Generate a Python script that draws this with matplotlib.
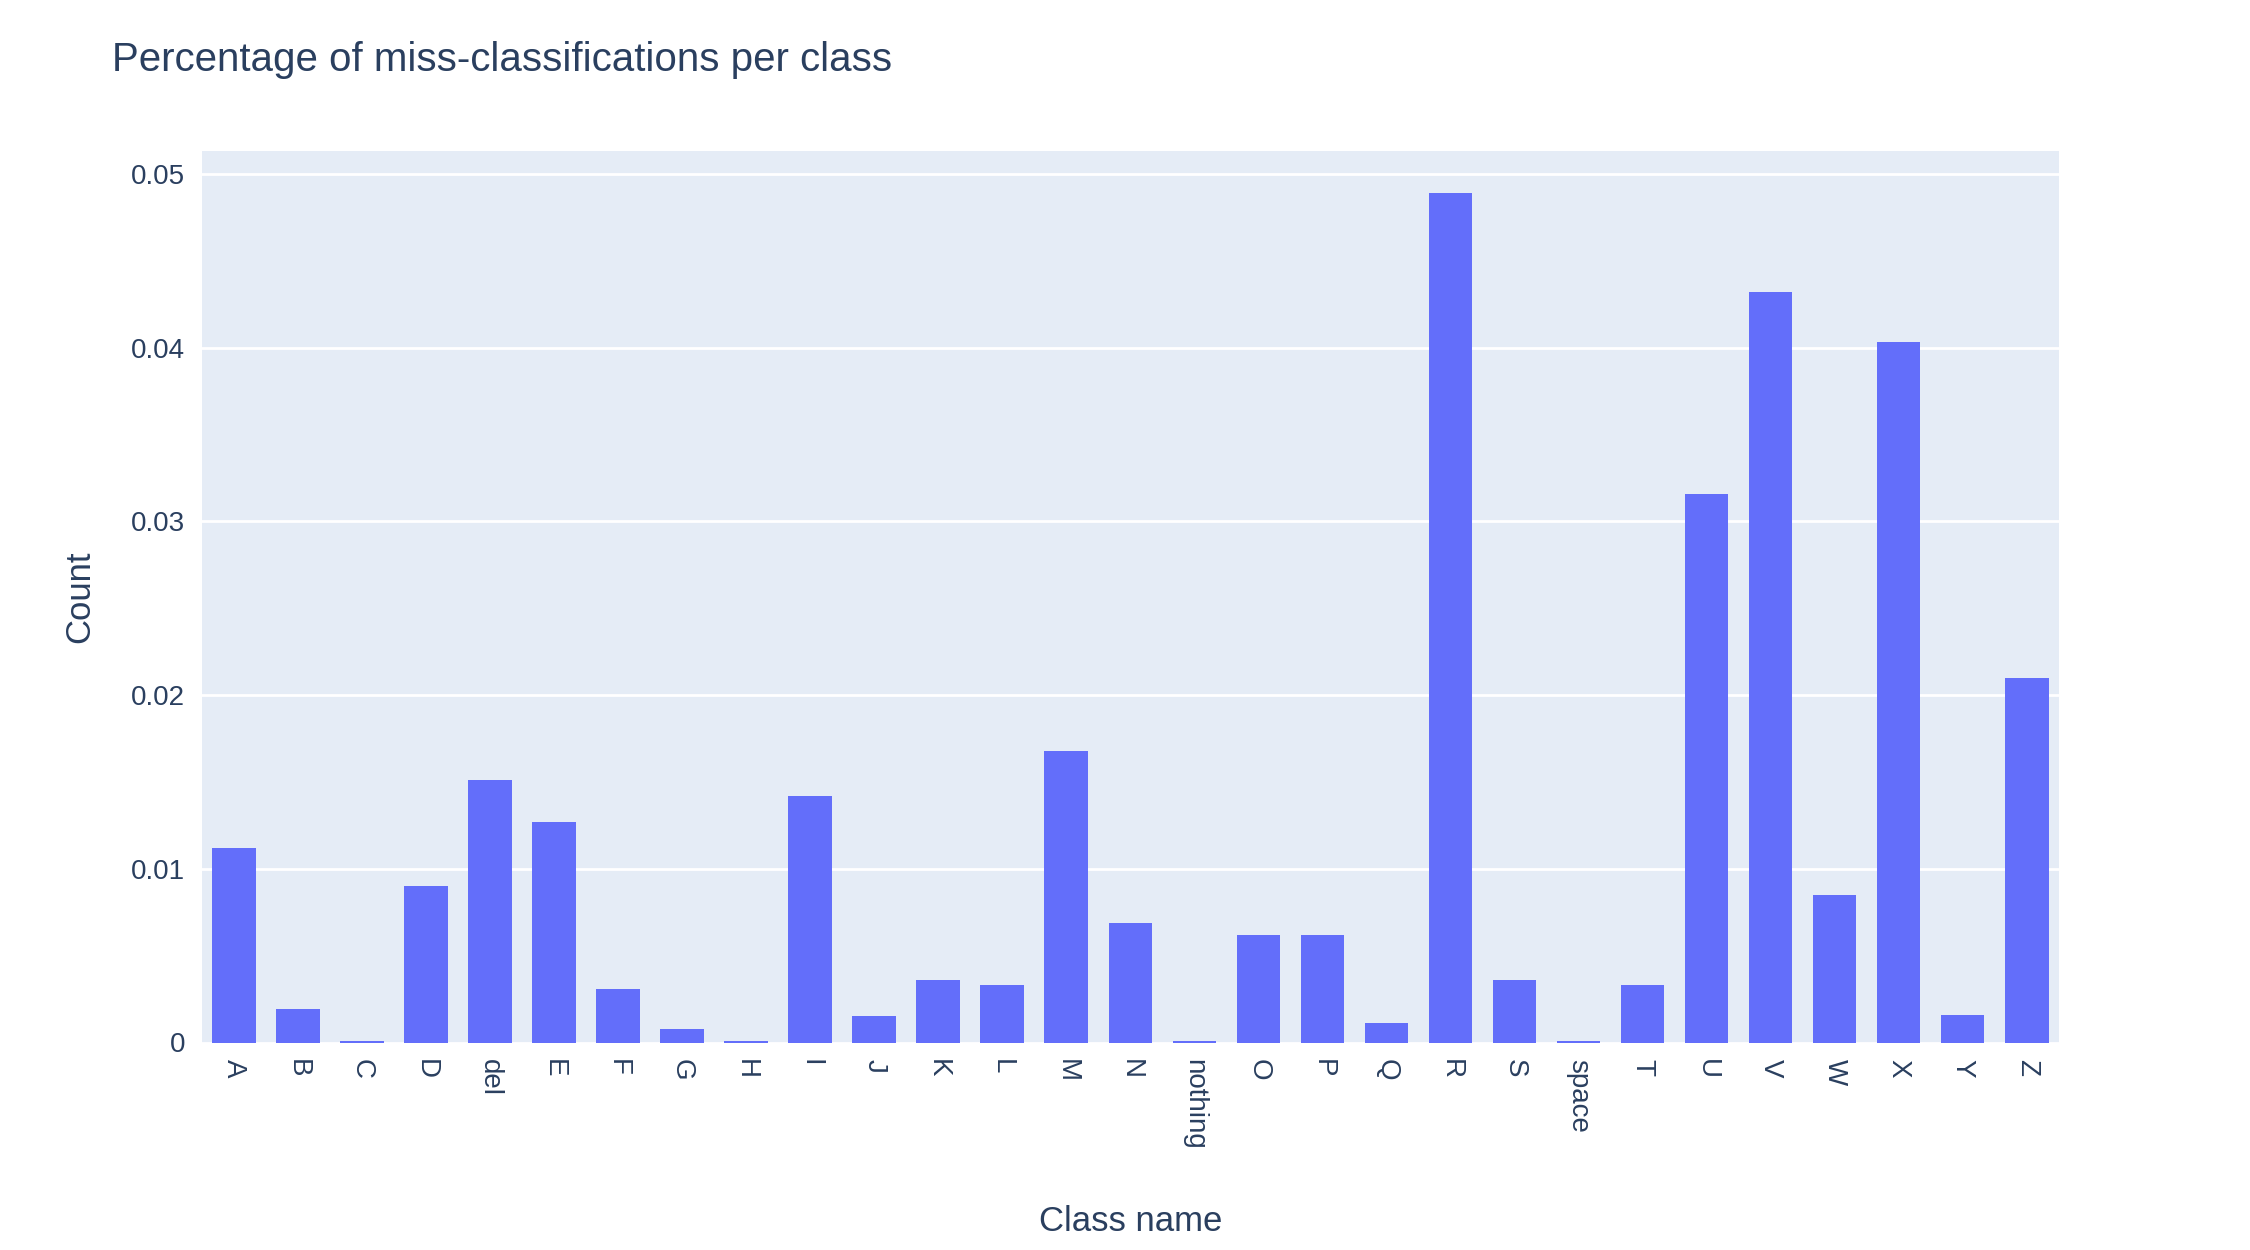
import matplotlib
matplotlib.use("Agg")
import matplotlib.pyplot as plt

classes = ['A', 'B', 'C', 'D', 'del', 'E', 'F', 'G', 'H', 'I', 'J', 'K', 'L', 'M', 'N',
           'nothing', 'O', 'P', 'Q', 'R', 'S', 'space', 'T', 'U', 'V', 'W', 'X', 'Y', 'Z']
values = [0.0112, 0.0019, 0.0001, 0.0090, 0.0151, 0.0127, 0.0031, 0.0008, 0.0001, 0.0142,
          0.0015, 0.0036, 0.0033, 0.0168, 0.0069, 0.0001, 0.0062, 0.0062, 0.0011, 0.0489,
          0.0036, 0.0001, 0.0033, 0.0316, 0.0432, 0.0085, 0.0403, 0.0016, 0.0210]

txt = '#2a3f5f'
plt.rcParams['font.family'] = ['Liberation Sans', 'DejaVu Sans']

fig = plt.figure(figsize=(22.5, 12.5), dpi=100)
ax = fig.add_axes([0.0897, 0.166, 0.8253, 0.713])
ax.set_facecolor('#E5ECF6')
ax.bar(range(len(classes)), values, width=0.68, color='#636EFA', zorder=3)
ax.set_xlim(-0.5, len(classes) - 0.5)
ax.set_ylim(0, 0.0513)
ax.set_yticks([0, 0.01, 0.02, 0.03, 0.04, 0.05])
ax.set_yticklabels(['0', '0.01', '0.02', '0.03', '0.04', '0.05'])
ax.set_xticks(range(len(classes)))
ax.set_xticklabels(classes, rotation=-90, va='top', ha='center')
ax.grid(axis='y', color='white', linewidth=2, zorder=0)
for s in ax.spines.values():
    s.set_visible(False)
ax.tick_params(length=0, labelsize=20, labelcolor=txt, pad=12)
ax.set_xlabel('Class name', fontsize=25, color=txt, labelpad=40)
ax.set_ylabel('Count', fontsize=25, color=txt, labelpad=25)
fig.text(0.05, 0.952, 'Percentage of miss-classifications per class', fontsize=29,
         color=txt, va='center')
fig.savefig('out.png', dpi=100)
